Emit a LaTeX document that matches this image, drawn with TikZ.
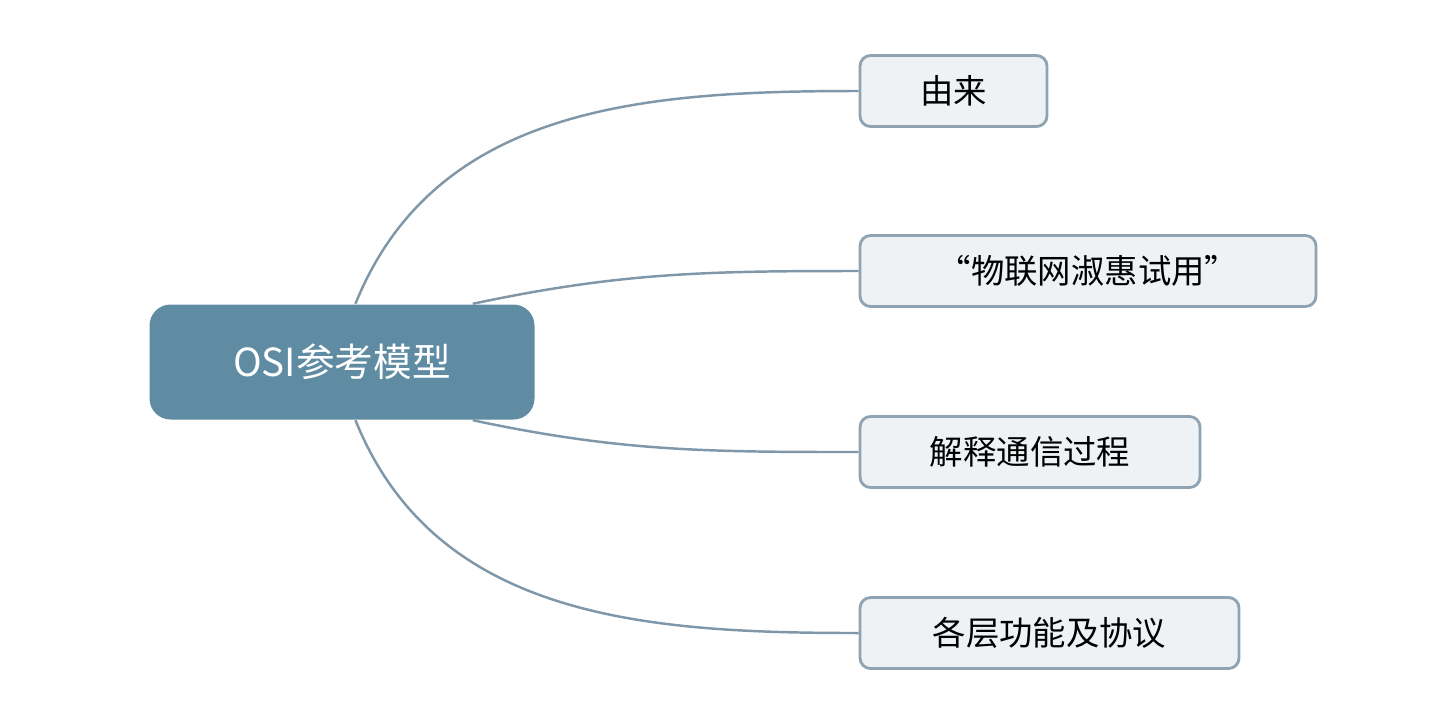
\documentclass[tikz,border=0pt]{standalone}
\usepackage{fontspec}
\newfontfamily\cjk{Noto Sans CJK SC}
\definecolor{rootblue}{HTML}{5F8CA3}
\definecolor{leaffill}{HTML}{EEF2F5}
\definecolor{leafline}{HTML}{8FA3B2}
\definecolor{branch}{HTML}{7F97A8}
\tikzset{
  root/.style={rectangle, rounded corners=6pt, fill=rootblue, text=white,
    minimum width=3.85cm, minimum height=1.15cm, font=\cjk\fontsize{11}{13}\selectfont},
  leaf/.style={rectangle, rounded corners=3pt, draw=leafline, line width=0.8pt, fill=leaffill,
    minimum height=0.71cm, font=\cjk\fontsize{9.5}{11}\selectfont},
  branchline/.style={draw=branch, line width=0.7pt}
}
\begin{document}
\begin{tikzpicture}
  \useasboundingbox (0, 0) rectangle (14.56, 7.03);
  \node [root] (osi) at (3.42, 3.41) {OSI参考模型};

  \node [leaf, minimum width=1.87cm] (origin) at (9.535, 6.12) {由来};
  \node [leaf, minimum width=4.56cm] (slogan) at (10.88, 4.32) {“物联网淑惠试用”};
  \node [leaf, minimum width=3.40cm] (explain) at (10.30, 2.51) {解释通信过程};
  \node [leaf, minimum width=3.79cm] (layers) at (10.495, 0.70) {各层功能及协议};

  \draw [branchline] (osi.77) to[out=68, in=180] (origin.west);
  \draw [branchline] (osi.24) to[out=12, in=180] (slogan.west);
  \draw [branchline] (osi.-24) to[out=-12, in=180] (explain.west);
  \draw [branchline] (osi.-77) to[out=-68, in=180] (layers.west);
\end{tikzpicture}
\end{document}
